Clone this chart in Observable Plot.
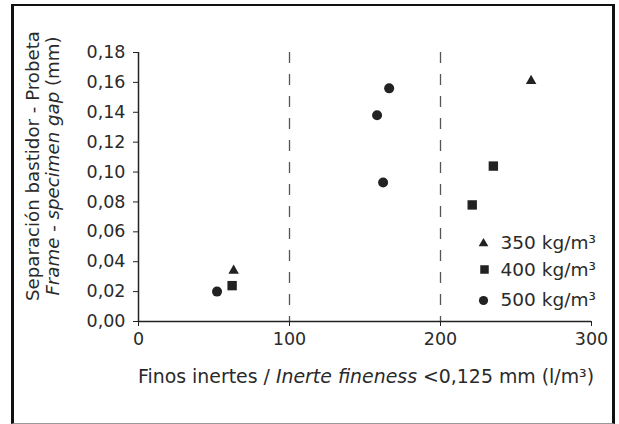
<!DOCTYPE html>
<html><head><meta charset="utf-8">
<script src="https://cdn.jsdelivr.net/npm/d3@7"></script>
<script src="https://cdn.jsdelivr.net/npm/@observablehq/plot@0.6"></script>
<style>
body{margin:0;background:#fff;}
#wrap{position:relative;width:619px;height:424px;overflow:hidden;background:#fff;}
#frame{position:absolute;left:11px;top:4px;width:604px;height:420px;box-sizing:border-box;border-left:3px solid #111;border-top:2px solid #111;border-right:3px solid #111;border-bottom:1px solid #999;}
#wrap svg{position:absolute;left:0;top:0;}
</style>
</head><body>
<div id="wrap"><div id="frame"></div></div>
<script>
// Data
const x350 = [63, 260];
const y350 = [0.034, 0.161];
const x400 = [62, 221, 235];
const y400 = [0.024, 0.078, 0.104];
const x500 = [52, 158, 162, 166];
const y500 = [0.020, 0.138, 0.093, 0.156];
const xTicks = [0, 100, 200, 300];
const yTicks = [0, 0.02, 0.04, 0.06, 0.08, 0.10, 0.12, 0.14, 0.16, 0.18];
const dividers = [100, 200];
const legendLabels = ["350 kg/m³", "400 kg/m³", "500 kg/m³"];
const series = ["350", "400", "500"];

const toRows = (xs, ys, s) => xs.map((x, i) => ({x, y: ys[i], s}));
const rows350 = toRows(x350, y350, series[0]);
const rows400 = toRows(x400, y400, series[1]);
const rows500 = toRows(x500, y500, series[2]);

const ink = "#222";
const txt = "#2a2a2a";
const fmt = d => d.toFixed(2).replace(".", ",");

const plot = Plot.plot({
  width: 619, height: 424,
  marginLeft: 138, marginRight: 28, marginTop: 52, marginBottom: 103,
  style: {fontFamily: "'DejaVu Sans', sans-serif", fontSize: "17.5px", color: txt, background: "transparent"},
  x: {domain: [0, 300]},
  y: {domain: [0, 0.18]},
  marks: [
    Plot.ruleX(dividers, {stroke: "#555", strokeWidth: 1.3, strokeDasharray: "11,11"}),
    Plot.axisX({ticks: xTicks, tickSize: 5, tickPadding: 6, label: null, tickFormat: d => String(d), stroke: ink}),
    Plot.axisY({ticks: yTicks, tickSize: 5, tickPadding: 8, label: null, tickFormat: fmt, stroke: ink}),
    Plot.ruleX([0], {stroke: ink, strokeWidth: 1.5}),
    Plot.ruleY([0], {stroke: ink, strokeWidth: 1.5}),
    Plot.dot(rows350, {x: "x", y: "y", symbol: "triangle", r: 3.9, fill: ink}),
    Plot.dot(rows400, {x: "x", y: "y", symbol: "square", r: 5.3, fill: ink}),
    Plot.dot(rows500, {x: "x", y: "y", symbol: "circle", r: 5, fill: ink}),
    // legend
    Plot.dot([legendLabels[0]], {frameAnchor: "bottom-right", dx: -108, dy: -78, symbol: "triangle", r: 3.6, fill: ink}),
    Plot.dot([legendLabels[1]], {frameAnchor: "bottom-right", dx: -107, dy: -52, symbol: "square", r: 4.8, fill: ink}),
    Plot.dot([legendLabels[2]], {frameAnchor: "bottom-right", dx: -108, dy: -21, symbol: "circle", r: 4.6, fill: ink}),
    Plot.text([legendLabels[0]], {frameAnchor: "bottom-right", dx: -91, dy: -78, text: d => d, textAnchor: "start", lineAnchor: "middle", fontSize: 18.5, fill: txt}),
    Plot.text([legendLabels[1]], {frameAnchor: "bottom-right", dx: -91, dy: -51, text: d => d, textAnchor: "start", lineAnchor: "middle", fontSize: 18.5, fill: txt}),
    Plot.text([legendLabels[2]], {frameAnchor: "bottom-right", dx: -91, dy: -21, text: d => d, textAnchor: "start", lineAnchor: "middle", fontSize: 18.5, fill: txt})
  ]
});

const svg = d3.select(plot);
// x-axis title
const xt = svg.append("text")
  .attr("x", 366).attr("y", 383)
  .attr("text-anchor", "middle")
  .attr("font-size", 18.9).attr("fill", txt);
xt.append("tspan").text("Finos inertes / ");
xt.append("tspan").attr("font-style", "italic").text("Inerte fineness");
xt.append("tspan").text(" <0,125 mm (l/m³)");

// y-axis title (two lines)
const yt = svg.append("g").attr("transform", "translate(0,166) rotate(-90)");
yt.append("text").attr("x", 0).attr("y", 39).attr("text-anchor", "middle")
  .attr("font-size", 18.2).attr("fill", txt).text("Separación bastidor - Probeta");
const yt2 = yt.append("text").attr("x", 0).attr("y", 59).attr("text-anchor", "middle")
  .attr("font-size", 18.2).attr("fill", txt);
yt2.append("tspan").attr("font-style", "italic").text("Frame - specimen gap");
yt2.append("tspan").text(" (mm)");

document.getElementById("wrap").appendChild(plot);
</script>
</body></html>
